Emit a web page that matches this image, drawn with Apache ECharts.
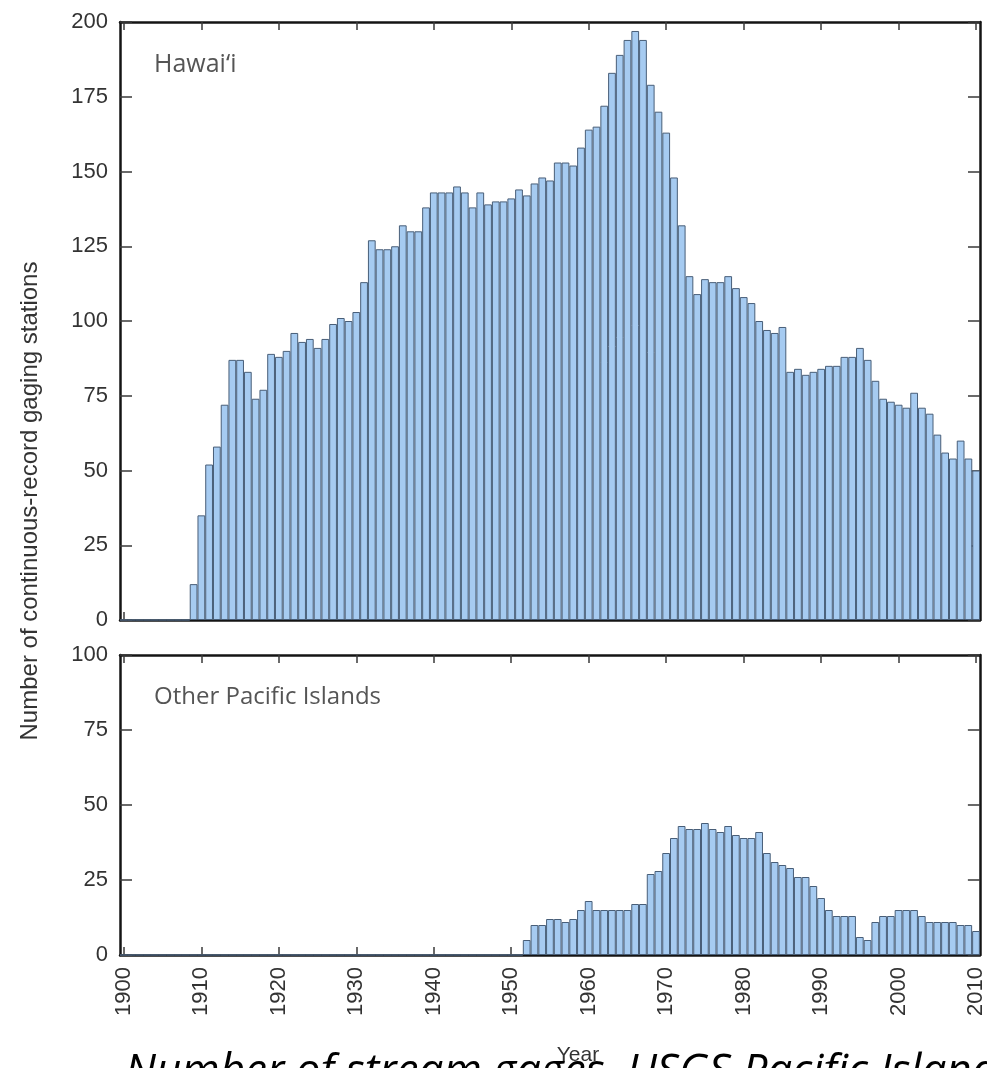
<!DOCTYPE html>
<html>
<head>
<meta charset="utf-8">
<script src="https://cdn.jsdelivr.net/npm/echarts@6/dist/echarts.min.js"></script>
<style>
  html, body { margin: 0; padding: 0; background: #fff; }
  #chart { width: 987px; height: 1068px; }
</style>
</head>
<body>
<div id="chart"></div>
<script>
// Year categories, one bar per year
const years = [];
for (let y = 1900; y <= 2010; y++) years.push(String(y));

// Continuous-record gaging stations in Hawai'i, 1900-2010
const hawaii = [
  0, 0, 0, 0, 0, 0, 0, 0, 0, 12,          // 1900-1909
  35, 52, 58, 72, 87, 87, 83, 74, 77, 89, // 1910-1919
  88, 90, 96, 93, 94, 91, 94, 99, 101, 100, // 1920-1929
  103, 113, 127, 124, 124, 125, 132, 130, 130, 138, // 1930-1939
  143, 143, 143, 145, 143, 138, 143, 139, 140, 140, // 1940-1949
  141, 144, 142, 146, 148, 147, 153, 153, 152, 158, // 1950-1959
  164, 165, 172, 183, 189, 194, 197, 194, 179, 170, // 1960-1969
  163, 148, 132, 115, 109, 114, 113, 113, 115, 111, // 1970-1979
  108, 106, 100, 97, 96, 98, 83, 84, 82, 83,        // 1980-1989
  84, 85, 85, 88, 88, 91, 87, 80, 74, 73,           // 1990-1999
  72, 71, 76, 71, 69, 62, 56, 54, 60, 54,           // 2000-2009
  50                                                // 2010
];

// Continuous-record gaging stations on the other Pacific islands, 1900-2010
const otherPacific = [
  0, 0, 0, 0, 0, 0, 0, 0, 0, 0,           // 1900-1909
  0, 0, 0, 0, 0, 0, 0, 0, 0, 0,           // 1910-1919
  0, 0, 0, 0, 0, 0, 0, 0, 0, 0,           // 1920-1929
  0, 0, 0, 0, 0, 0, 0, 0, 0, 0,           // 1930-1939
  0, 0, 0, 0, 0, 0, 0, 0, 0, 0,           // 1940-1949
  0, 0, 5, 10, 10, 12, 12, 11, 12, 15,    // 1950-1959
  18, 15, 15, 15, 15, 15, 17, 17, 27, 28, // 1960-1969
  34, 39, 43, 42, 42, 44, 42, 41, 43, 40, // 1970-1979
  39, 39, 41, 34, 31, 30, 29, 26, 26, 23, // 1980-1989
  19, 15, 13, 13, 13, 6, 5, 11, 13, 13,   // 1990-1999
  15, 15, 15, 13, 11, 11, 11, 11, 10, 10, // 2000-2009
  8                                       // 2010
];

const hawaiiTicks = { min: 0, max: 200, interval: 25 };
const pacificTicks = { min: 0, max: 100, interval: 25 };

const FRAME = '#141414';
const TICK = '#3a3a3a';
const LABEL = '#333';
const decade = (i) => i % 10 === 0;

function xAxisFor(gridIndex, position, showLabels) {
  return {
    type: 'category',
    gridIndex: gridIndex,
    position: position,
    data: years,
    boundaryGap: true,
    axisLine: { show: true, onZero: false, lineStyle: { color: FRAME, width: 2.5 } },
    axisTick: {
      show: true, inside: true, alignWithLabel: true, length: 8,
      interval: decade, lineStyle: { color: TICK, width: 1.5 }
    },
    axisLabel: {
      show: showLabels, interval: decade, rotate: 90, margin: 12,
      fontSize: 22, color: LABEL, fontFamily: 'Liberation Sans'
    },
    splitLine: { show: false }
  };
}

function yAxisFor(gridIndex, position, ticks, showLabels) {
  return {
    type: 'value',
    gridIndex: gridIndex,
    position: position,
    min: ticks.min, max: ticks.max, interval: ticks.interval,
    axisLine: { show: true, lineStyle: { color: FRAME, width: 2.5 } },
    axisTick: { show: true, inside: true, length: 12, lineStyle: { color: TICK, width: 1.5 } },
    axisLabel: {
      show: showLabels, margin: 12, fontSize: 22, color: LABEL, fontFamily: 'Liberation Sans'
    },
    splitLine: { show: false }
  };
}

const barStyle = { color: '#a6cbf1', borderColor: '#485e78', borderWidth: 1 };

const chart = echarts.init(document.getElementById('chart'), null, { renderer: 'canvas' });
chart.setOption({
  animation: false,
  backgroundColor: '#ffffff',
  grid: [
    { left: 120, right: 7, top: 22, height: 598 },
    { left: 120, right: 7, top: 655, height: 300 }
  ],
  xAxis: [
    xAxisFor(0, 'bottom', false),
    xAxisFor(0, 'top', false),
    Object.assign(xAxisFor(1, 'bottom', true), {
      name: 'Year', nameLocation: 'middle', nameGap: 90,
      nameTextStyle: { fontSize: 21, color: LABEL, fontFamily: 'Liberation Sans', padding: [0, 0, 0, 56] }
    }),
    xAxisFor(1, 'top', false)
  ],
  yAxis: [
    yAxisFor(0, 'left', hawaiiTicks, true),
    yAxisFor(0, 'right', hawaiiTicks, false),
    yAxisFor(1, 'left', pacificTicks, true),
    yAxisFor(1, 'right', pacificTicks, false)
  ],
  series: [
    {
      name: 'Hawai‘i', type: 'bar', xAxisIndex: 0, yAxisIndex: 0,
      data: hawaii, barCategoryGap: '0%', itemStyle: barStyle, silent: true
    },
    {
      name: 'Other Pacific Islands', type: 'bar', xAxisIndex: 2, yAxisIndex: 2,
      data: otherPacific, barCategoryGap: '0%', itemStyle: barStyle, silent: true
    }
  ],
  graphic: [
    {
      type: 'text', x: 154, y: 65,
      style: { text: 'Hawai‘i', font: '25px "Open Sans"', fill: '#555', align: 'left', verticalAlign: 'middle' }
    },
    {
      type: 'text', x: 154, y: 697,
      style: { text: 'Other Pacific Islands', font: '24px "Open Sans"', fill: '#555', align: 'left', verticalAlign: 'middle' }
    },
    {
      type: 'text', x: 30, y: 501, rotation: Math.PI / 2,
      style: {
        text: 'Number of continuous-record gaging stations',
        font: '24px "Liberation Sans"', fill: LABEL, align: 'center', verticalAlign: 'middle'
      }
    },
    {
      type: 'text', x: 125, y: 1072,
      style: {
        text: 'Number of stream gages, USGS Pacific Islands',
        font: 'italic 44px "Open Sans"', fill: '#000', align: 'left', verticalAlign: 'middle'
      }
    }
  ]
});
</script>
</body>
</html>
